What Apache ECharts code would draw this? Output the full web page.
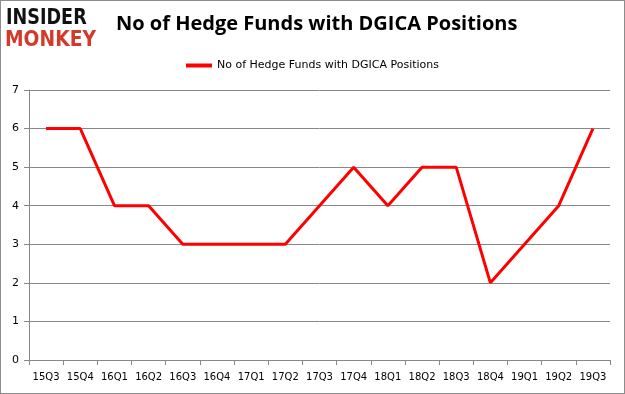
<!DOCTYPE html>
<html><head><meta charset="utf-8">
<script src="https://cdn.jsdelivr.net/npm/echarts@6/dist/echarts.min.js"></script>
<style>html,body{margin:0;padding:0;background:#fff}#c{width:625px;height:394px;box-sizing:border-box;border:1px solid #8c8c8c}</style>
</head><body><div id="c"></div>
<script>
var categories = ["15Q3","15Q4","16Q1","16Q2","16Q3","16Q4","17Q1","17Q2","17Q3","17Q4","18Q1","18Q2","18Q3","18Q4","19Q1","19Q2","19Q3"];
var seriesName = "No of Hedge Funds with DGICA Positions";
var values = [6,6,4,4,3,3,3,3,4,5,4,5,5,2,3,4,6];
var chart = echarts.init(document.getElementById('c'));
chart.setOption({
  animation:false,
  title:{text:"No of Hedge Funds with DGICA Positions",left:110,top:8,textStyle:{fontFamily:"Open Sans",fontSize:20,fontWeight:"bold",color:"#000"}},
  legend:{top:54,left:'center',data:[seriesName],itemWidth:26,itemHeight:4,icon:'rect',textStyle:{fontFamily:"DejaVu Sans",fontSize:11,color:"#000"}},
  graphic:[
    {type:'text',x:5,y:6,scaleX:0.8,style:{text:"INSIDER",font:"900 22px 'DejaVu Sans'",fill:"#111"}},
    {type:'text',x:4,y:28,scaleX:0.85,style:{text:"MONKEY",font:"900 22px 'DejaVu Sans'",fill:"#d23a2a"}}
  ],
  grid:{left:28,right:14,top:89,bottom:33,containLabel:false},
  xAxis:{type:'category',data:categories,boundaryGap:true,
    axisLine:{lineStyle:{color:"#888"}},axisTick:{show:true,alignWithLabel:false,length:5,lineStyle:{color:"#888"}},
    axisLabel:{interval:0,color:"#000",fontFamily:"DejaVu Sans",fontSize:10,margin:12}},
  yAxis:{type:'value',min:0,max:7,interval:1,
    axisLine:{show:true,lineStyle:{color:"#888"}},axisTick:{show:true,length:5,lineStyle:{color:"#888"}},
    splitLine:{lineStyle:{color:"#888"}},
    axisLabel:{color:"#000",fontFamily:"DejaVu Sans",fontSize:11,margin:10}},
  series:[{name:seriesName,type:'line',data:values,symbol:'none',lineStyle:{color:"#ff0000",width:3},itemStyle:{color:"#ff0000"}}]
});
</script></body></html>
